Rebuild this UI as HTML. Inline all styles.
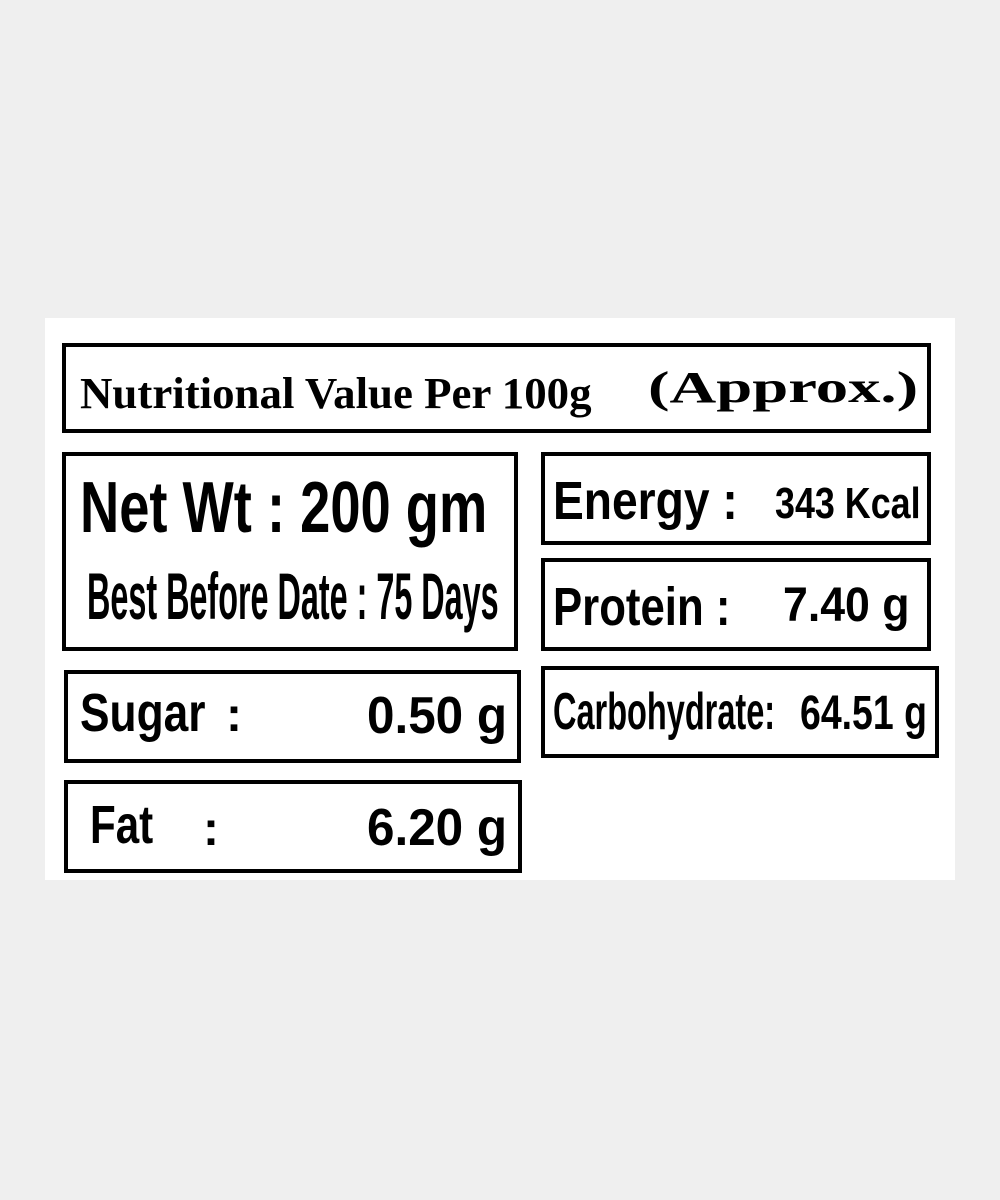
<!DOCTYPE html>
<html><head><meta charset="utf-8"><style>
body{margin:0;width:1000px;height:1200px;background:#efefef;position:relative;overflow:hidden;font-family:"Liberation Sans",sans-serif}
.panel{position:absolute;left:45px;top:318px;width:910px;height:562px;background:#fff}
.b{position:absolute;border:4px solid #000;box-sizing:border-box}
.t{position:absolute;white-space:nowrap;transform-origin:0 0;color:#000;font-weight:bold;line-height:1}
.s{font-family:"Liberation Serif",serif}
</style></head><body>
<div class="panel"></div>
<div class="b" style="left:62px;top:343px;width:869px;height:90px"></div>
<div class="b" style="left:62px;top:452px;width:456px;height:199px"></div>
<div class="b" style="left:541px;top:452px;width:390px;height:93px"></div>
<div class="b" style="left:541px;top:558px;width:390px;height:93px"></div>
<div class="b" style="left:64px;top:670px;width:457px;height:93px"></div>
<div class="b" style="left:541px;top:666px;width:398px;height:92px"></div>
<div class="b" style="left:64px;top:780px;width:458px;height:93px"></div>

<div class="t s" style="left:80px;top:372px;font-size:44px;transform:scaleX(1.02)">Nutritional Value Per 100g</div>
<div class="t s" style="left:648px;top:366px;font-size:44px;transform:scaleX(1.47)">(Approx.)</div>

<div class="t" style="left:80px;top:472px;font-size:72px;transform:scaleX(0.754)">Net Wt : 200 gm</div>
<div class="t" style="left:87px;top:563px;font-size:66px;transform:scaleX(0.49)">Best Before Date : 75 Days</div>

<div class="t" style="left:553px;top:474px;font-size:54px;transform:scaleX(0.855)">Energy :</div>
<div class="t" style="left:775px;top:482px;font-size:44px;transform:scaleX(0.815)">343 Kcal</div>

<div class="t" style="left:553px;top:580px;font-size:54px;transform:scaleX(0.81)">Protein :</div>
<div class="t" style="left:783px;top:582px;font-size:48px;transform:scaleX(0.93)">7.40 g</div>

<div class="t" style="left:80px;top:686px;font-size:54px;transform:scaleX(0.82)">Sugar</div>
<div class="t" style="left:226px;top:692px;font-size:48px">:</div>
<div class="t" style="left:367px;top:690px;font-size:52px;transform:scaleX(0.95)">0.50 g</div>

<div class="t" style="left:553px;top:686px;font-size:52px;transform:scaleX(0.625)">Carbohydrate:</div>
<div class="t" style="left:800px;top:690px;font-size:48px;transform:scaleX(0.78)">64.51 g</div>

<div class="t" style="left:90px;top:798px;font-size:54px;transform:scaleX(0.78)">Fat</div>
<div class="t" style="left:203px;top:806px;font-size:48px">:</div>
<div class="t" style="left:367px;top:802px;font-size:52px;transform:scaleX(0.95)">6.20 g</div>
</body></html>
